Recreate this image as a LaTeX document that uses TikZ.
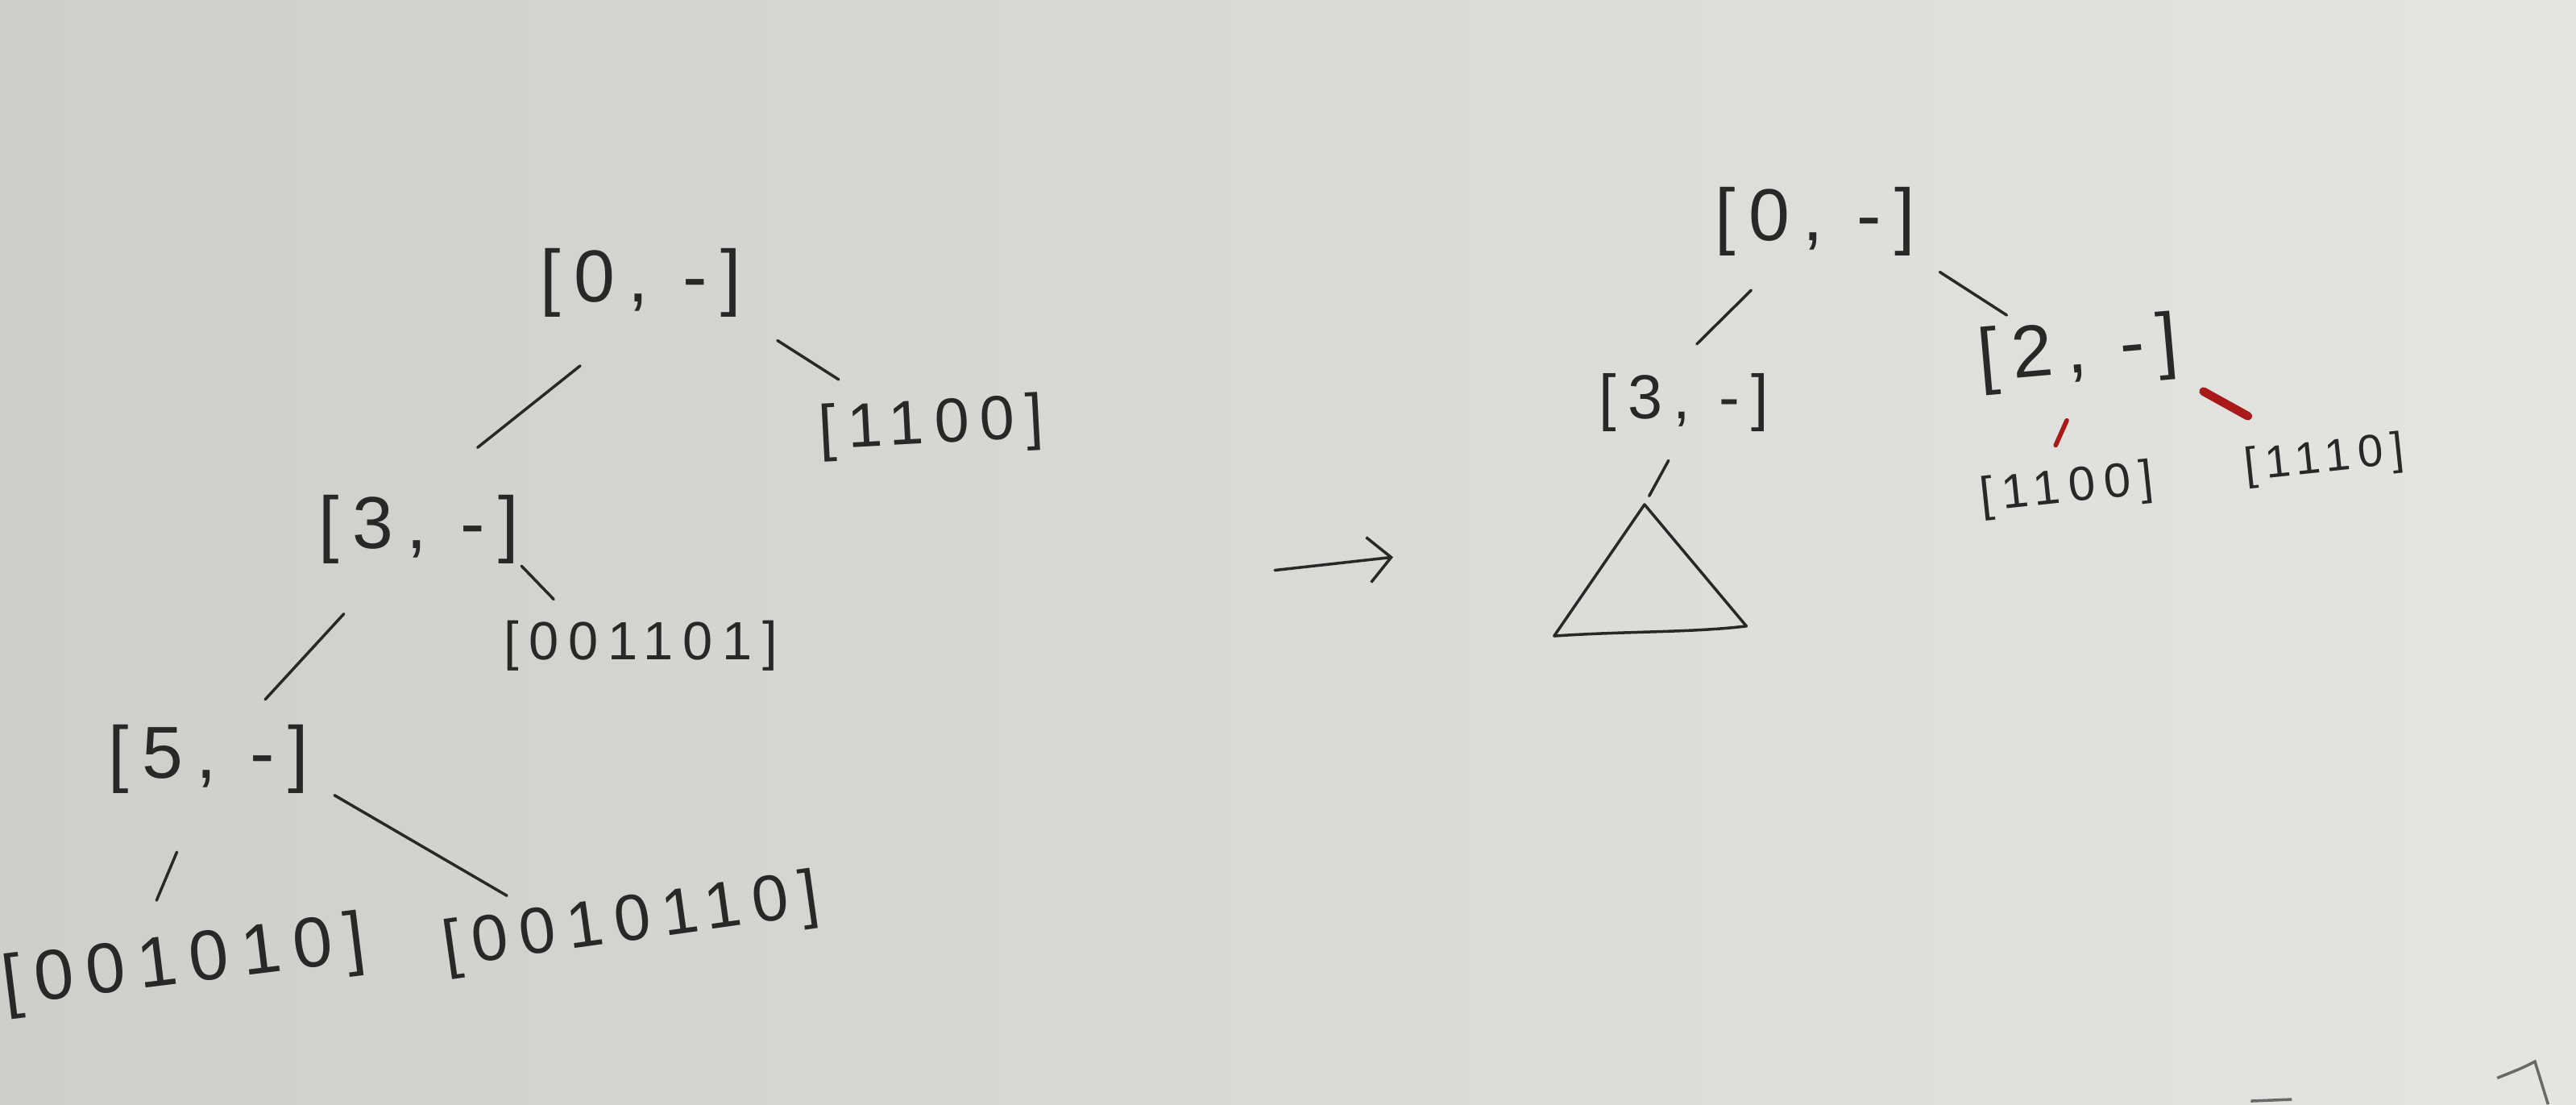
\documentclass[tikz,border=0pt]{standalone}
\usepackage{fontspec}
\usepackage{xcolor}
\usepackage{tikz}
\usetikzlibrary{arrows.meta}
\newfontfamily\hand[LetterSpace=18]{Liberation Sans}
\definecolor{ink}{RGB}{40,40,40}
\definecolor{redink}{RGB}{170,25,25}
\definecolor{paperL}{RGB}{206,206,202}
\definecolor{paperR}{RGB}{228,228,225}

\begin{document}
\begin{tikzpicture}[x=0.02039cm, y=-0.02039cm,
 lbl/.style={inner sep=0pt, text=ink, font=\hand\fontsize{#1}{#1}\selectfont},
 edge/.style={draw=ink, line width=1pt, line cap=round},
 redge/.style={draw=redink, line width=1.6pt, line cap=round}]
\useasboundingbox (0,0) rectangle (1568,672);
\shade[left color=paperL, right color=paperR] (0,0) rectangle (1568,672);

\node[lbl=26] (r0) at (390,172) {[0, -]};
\node[lbl=26] (a3) at (255,322) {[3, -]};
\node[lbl=22, rotate=3] (a1100) at (567,260) {[1100]};
\node[lbl=19] (a001101) at (390,393) {[001101]};
\node[lbl=26] (a5) at (127,462) {[5, -]};
\node[lbl=25, rotate=7] (a001010) at (112,587) {[001010]};
\node[lbl=23, rotate=8] (a0010110) at (384,562) {[0010110]};

\draw[edge, shorten <=0.96cm, shorten >=0.93cm] (r0.south) -- (a3.north);
\draw[edge, shorten <=0.53cm, shorten >=0.49cm] (r0.south east) -- (a1100.153);
\draw[edge, shorten <=1pt, shorten >=0.36cm] (a3.south east) -- (a001101.159);
\draw[edge, shorten <=0.84cm, shorten >=0.42cm] (a3.230) -- (a5.46);
\draw[edge, shorten <=0.78cm, shorten >=0.48cm] (a5.258) -- (a001010.139);
\draw[edge, shorten <=0.36cm, shorten >=0.28cm] (a5.348) -- (a0010110.163);

\coordinate (arrA) at (776,347);
\coordinate (arrB) at (848,339);
\draw[edge, -{Straight Barb[length=8pt,width=16pt]}] (arrA) -- (arrB);

\node[lbl=26] (s0) at (1105,135) {[0, -]};
\node[lbl=22] (s3) at (1025,245) {[3, -]};
\node[lbl=26, rotate=5] (s2) at (1265,215) {[2, -]};
\node[lbl=17, rotate=6] (s1100) at (1258,298) {[1100]};
\node[lbl=16, rotate=6] (s1110) at (1415,280) {[1110]};
\coordinate (tri) at (1001,307);

\draw[edge, shorten <=0.59cm, shorten >=0.51cm] (s0.229) -- (s3.119);
\draw[edge, shorten <=0.35cm, shorten >=0.19cm] (s0.south east) -- (s2.148);
\draw[edge, shorten <=0.40cm, shorten >=0.12cm] (s3.south) -- (tri);
\draw[edge, line join=round] (tri) -- (946,387) .. controls (990,384) and (1030,385) .. (1063,381) -- cycle;
\draw[redge, shorten <=0.44cm, shorten >=0.32cm] (s2.south) -- (s1100.130);
\draw[redge, line width=3pt, shorten <=0.31cm, shorten >=0.65cm] (s2.south east) -- (s1110.143);

\draw[ink!70, line width=1pt] (1370,670) -- (1395,669);
\draw[ink!70, line width=1pt] (1520,656) .. controls (1535,650) .. (1543,646) -- (1551,672);
\end{tikzpicture}
\end{document}
